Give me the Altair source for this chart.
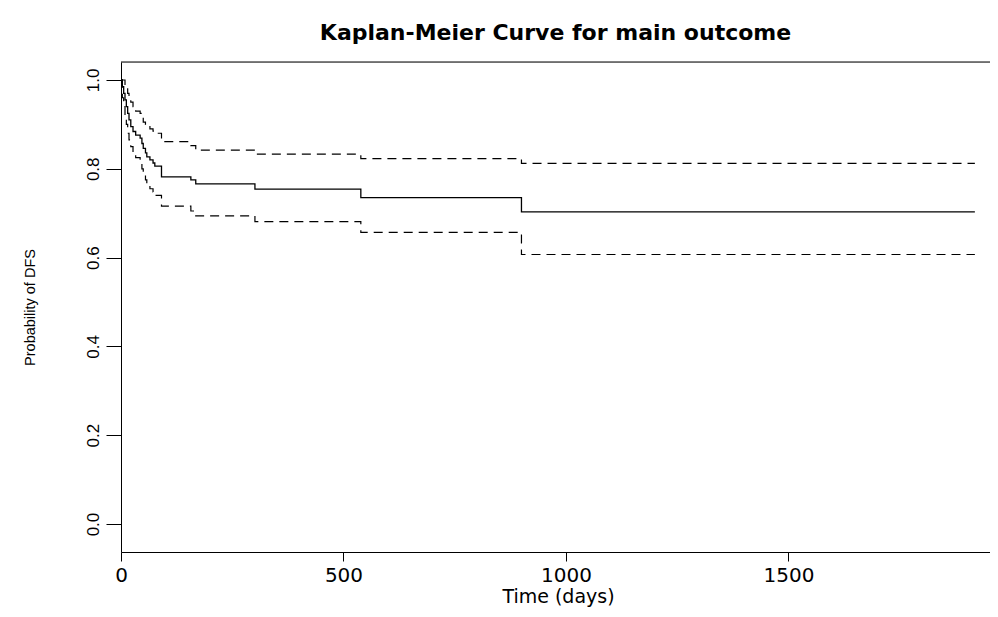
import altair as alt
import pandas as pd

# Kaplan-Meier step data
time = [0, 3, 6, 9, 12, 15, 18, 22, 27, 33, 43, 47, 50, 55, 58, 65, 72, 76, 91, 157, 168, 301, 539, 900, 1919]
surv = [1.0, 0.985, 0.97, 0.955, 0.94, 0.925, 0.91, 0.895, 0.884, 0.876, 0.869, 0.857, 0.846, 0.836, 0.827,
        0.820, 0.813, 0.806, 0.782, 0.775, 0.766, 0.754, 0.735, 0.703, 0.703]
upper = [1.0, 1.0, 1.0, 0.99, 0.98, 0.97, 0.96, 0.95, 0.94, 0.93, 0.925, 0.915, 0.905, 0.90, 0.895,
         0.89, 0.885, 0.88, 0.861, 0.852, 0.842, 0.833, 0.823, 0.812, 0.812]
lower = [1.0, 0.96, 0.94, 0.92, 0.90, 0.88, 0.865, 0.85, 0.835, 0.825, 0.815, 0.80, 0.79, 0.775, 0.765,
         0.755, 0.748, 0.74, 0.716, 0.705, 0.694, 0.681, 0.657, 0.607, 0.607]

x_ticks = [0, 500, 1000, 1500]
y_ticks = [0.0, 0.2, 0.4, 0.6, 0.8, 1.0]

df = pd.DataFrame({"time": time, "surv": surv, "upper": upper, "lower": lower})

W, H = 869, 490
xs = alt.Scale(domain=[0, 1953], nice=False, zero=False)
ys = alt.Scale(domain=[-0.063, 1.0405], nice=False, zero=False)

x_axis = alt.Axis(values=x_ticks, format="d", title="Time (days)", grid=False, tickSize=9, tickColor="black",
                  domainColor="black", labelFont="DejaVu Sans", labelFontSize=20, labelColor="black",
                  labelPadding=4, labelFlush=False, titleFont="DejaVu Sans", titleFontSize=19,
                  titleFontWeight="normal", titleColor="black", titleX=437, titleY=44,
                  titleBaseline="middle", titleAlign="center")
y_axis = alt.Axis(values=y_ticks, format=".1f", title="Probability of DFS", grid=False, tickSize=15,
                  tickColor="black", domainColor="black", labelFont="Liberation Sans", labelFontSize=17,
                  labelColor="black", labelAngle=270, labelAlign="center", labelBaseline="bottom",
                  labelPadding=4, labelFlush=False, titleFont="Liberation Sans", titleFontSize=14.5,
                  titleFontWeight="normal", titleColor="black", titleAngle=270, titleX=-91, titleY=245,
                  titleAlign="center", titleBaseline="middle")

base = alt.Chart(df)
main = base.mark_line(interpolate="step-after", color="black", strokeWidth=1.3).encode(
    x=alt.X("time:Q", scale=xs, axis=x_axis),
    y=alt.Y("surv:Q", scale=ys, axis=y_axis),
)
up = base.mark_line(interpolate="step-after", color="black", strokeWidth=1.2, strokeDash=[9, 6]).encode(
    x=alt.X("time:Q", scale=xs), y=alt.Y("upper:Q", scale=ys))
lo = base.mark_line(interpolate="step-after", color="black", strokeWidth=1.2, strokeDash=[9, 6]).encode(
    x=alt.X("time:Q", scale=xs), y=alt.Y("lower:Q", scale=ys))
top = alt.Chart(pd.DataFrame({"a": [0]})).mark_rule(color="black", strokeWidth=1).encode(
    x=alt.value(0), x2=alt.value(W), y=alt.value(0))

chart = alt.layer(top, main, up, lo).properties(
    width=W, height=H,
    title=alt.TitleParams("Kaplan-Meier Curve for main outcome", font="DejaVu Sans", fontSize=22,
                          fontWeight="bold", color="black", anchor="middle", baseline="alphabetic",
                          offset=22, dy=22),
    autosize=alt.AutoSizeParams(type="none"),
    padding={"left": 113, "top": 54, "right": 0, "bottom": 57},
).configure_view(stroke=None).configure(background="white")

chart.save("out.html", embed_options={"renderer": "svg", "actions": False})
